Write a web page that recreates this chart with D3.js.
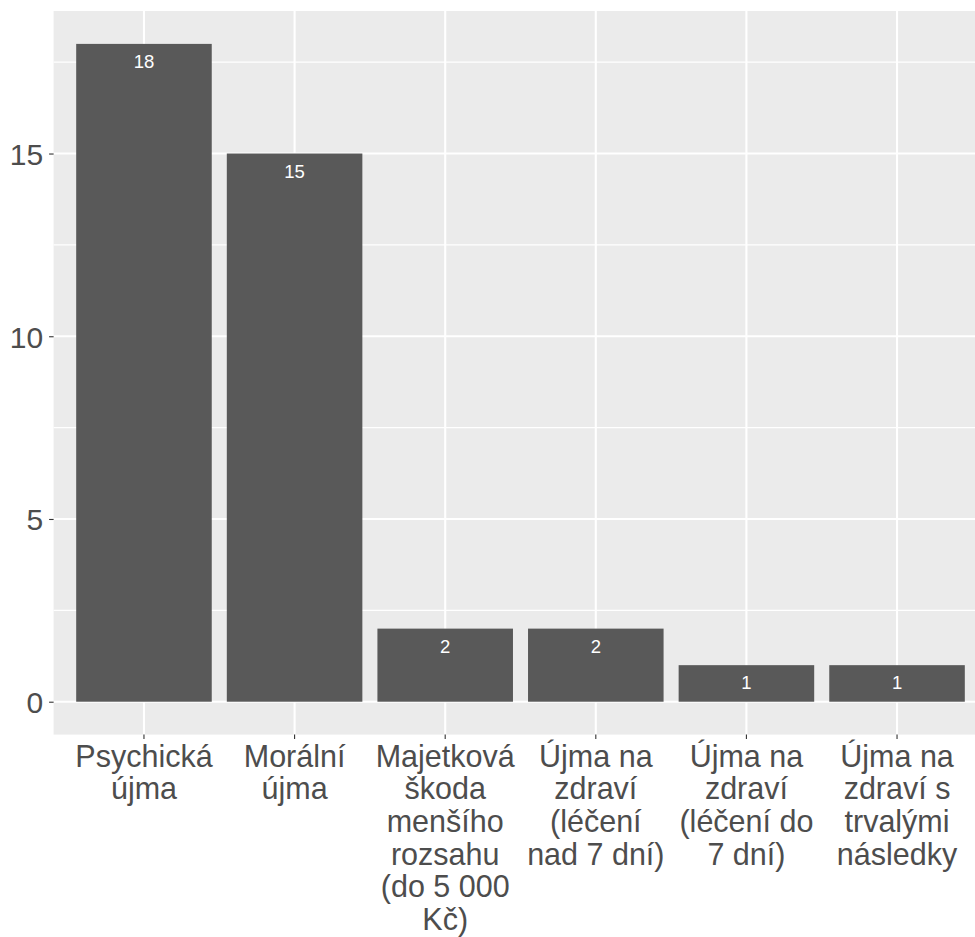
<!DOCTYPE html>
<html><head><meta charset="utf-8">
<script src="https://cdn.jsdelivr.net/npm/d3@7"></script>
<style>html,body{margin:0;padding:0;background:#fff;overflow:hidden}svg{display:block;font-family:"Liberation Sans",Arial,sans-serif}</style>
</head><body>
<script>
const categories = ["Psychická\nújma","Morální\nújma","Majetková\nškoda\nmenšího\nrozsahu\n(do 5 000\nKč)","Újma na\nzdraví\n(léčení\nnad 7 dní)","Újma na\nzdraví\n(léčení do\n7 dní)","Újma na\nzdraví s\ntrvalými\nnásledky"];
const counts = [18, 15, 2, 2, 1, 1];
const yTicks = [0, 5, 10, 15];
const yMinor = [2.5, 7.5, 12.5, 17.5];

const W = 975, H = 937;
const svg = d3.select("body").append("svg").attr("width", W).attr("height", H);
const pL = 53.6, pR = 987.4, pT = 11, pB = 734.6;
const x = d3.scaleBand().domain(categories).range([pL, pR]).paddingInner(0.1).paddingOuter(0.15);
const y = d3.scaleLinear().domain([-0.9, 18.9]).range([pB, pT]);

svg.append("rect").attr("x", pL).attr("y", pT).attr("width", pR - pL).attr("height", pB - pT).attr("fill", "#EBEBEB");
const g = svg.append("g");
g.selectAll(".ymin").data(yMinor).join("line").attr("x1", pL).attr("x2", pR)
  .attr("y1", d => y(d)).attr("y2", d => y(d)).attr("stroke", "#fff").attr("stroke-width", 1.1);
g.selectAll(".ymaj").data(yTicks).join("line").attr("x1", pL).attr("x2", pR)
  .attr("y1", d => y(d)).attr("y2", d => y(d)).attr("stroke", "#fff").attr("stroke-width", 2.1);
g.selectAll(".xmaj").data(categories).join("line")
  .attr("x1", d => x(d) + x.bandwidth()/2).attr("x2", d => x(d) + x.bandwidth()/2)
  .attr("y1", pT).attr("y2", pB).attr("stroke", "#fff").attr("stroke-width", 2.1);

svg.selectAll(".bar").data(categories).join("rect")
  .attr("x", d => x(d)).attr("width", x.bandwidth())
  .attr("y", (d, i) => y(counts[i])).attr("height", (d, i) => y(0) - y(counts[i]))
  .attr("fill", "#595959");

svg.selectAll(".lab").data(categories).join("text")
  .attr("x", d => x(d) + x.bandwidth()/2).attr("y", (d, i) => y(counts[i]) + 24)
  .attr("text-anchor", "middle").attr("fill", "#fff").attr("font-size", 18.5)
  .text((d, i) => counts[i]);

// y axis
const ya = svg.append("g").attr("transform", `translate(${pL},0)`)
  .call(d3.axisLeft(y).tickValues(yTicks).tickSize(4.5).tickPadding(6));
ya.select(".domain").remove();
ya.selectAll("line").attr("stroke", "#333").attr("stroke-width", 1.1);
ya.selectAll("text").attr("fill", "#4D4D4D").attr("font-size", 30).attr("font-family", "'Liberation Sans', Arial, sans-serif").attr("dy", "0.36em");

// x axis
const xa = svg.append("g").attr("transform", `translate(0,${pB})`)
  .call(d3.axisBottom(x).tickSize(4.5).tickFormat(""));
xa.select(".domain").remove();
xa.selectAll("line").attr("stroke", "#333").attr("stroke-width", 1.1);
xa.selectAll(".tick").each(function(d) {
  const t = d3.select(this).append("text").attr("fill", "#4D4D4D").attr("font-size", 30.5)
    .attr("text-anchor", "middle").attr("font-family", "'Liberation Sans', Arial, sans-serif");
  d.split("\n").forEach((line, i) => {
    t.append("tspan").attr("x", 0).attr("y", 32 + i * 32.7).text(line);
  });
});
</script>
</body></html>
